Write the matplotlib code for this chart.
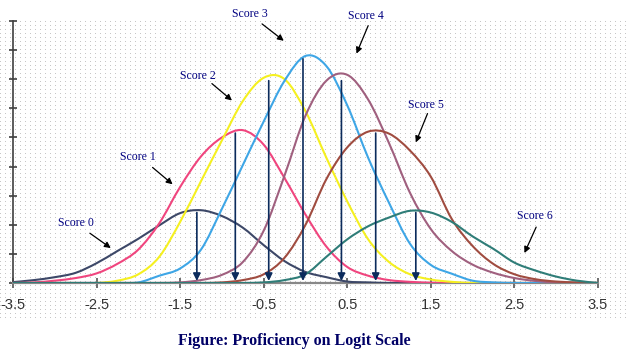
import numpy as np
import matplotlib
matplotlib.use('Agg')
import matplotlib.pyplot as plt
from matplotlib.path import Path
from matplotlib.patches import PathPatch

# logit grid the curves were read at
logit = [-3.5, -3.25, -3.0, -2.75, -2.5, -2.25, -2.0, -1.75, -1.5, -1.25, -1.0, -0.75, -0.5,
         -0.25, 0.0, 0.25, 0.5, 0.75, 1.0, 1.25, 1.5, 1.75, 2.0, 2.25, 2.5, 2.75, 3.0, 3.25, 3.5]

score0 = [0.03, 0.1, 0.2, 0.35, 0.68, 1.1, 1.52, 1.98, 2.4, 2.5, 2.3, 1.9, 1.3,
          0.75, 0.38, 0.2, 0.05, 0.02, 0.0, 0.0, 0.0, 0.0, 0.0, 0.0, 0.0, 0.0, 0.0, 0.0, 0.0]
score1 = [0.0, 0.02, 0.08, 0.17, 0.33, 0.66, 1.15, 2.05, 3.3, 4.35, 5.0, 5.25, 4.75,
          3.6, 2.35, 1.25, 0.55, 0.25, 0.1, 0.04, 0.01, 0.0, 0.0, 0.0, 0.0, 0.0, 0.0, 0.0, 0.0]
score2 = [0.0, 0.0, 0.0, 0.0, 0.0, 0.08, 0.3, 0.9, 2.1, 3.5, 4.9, 6.25, 7.05,
          7.0, 5.9, 4.3, 2.8, 1.5, 0.72, 0.3, 0.12, 0.04, 0.0, 0.0, 0.0, 0.0, 0.0, 0.0, 0.0]
score3 = [0.0, 0.0, 0.0, 0.0, 0.0, 0.0, 0.02, 0.25, 0.5, 1.15, 2.55, 4.05, 5.55,
          6.95, 7.8, 7.45, 6.1, 4.3, 2.75, 1.35, 0.62, 0.32, 0.08, 0.02, 0.0, 0.0, 0.0, 0.0, 0.0]
score4 = [0.0, 0.0, 0.0, 0.0, 0.0, 0.0, 0.0, 0.0, 0.02, 0.1, 0.28, 0.72, 1.8,
          3.7, 5.75, 6.95, 7.15, 6.3, 4.8, 3.1, 1.85, 1.1, 0.63, 0.35, 0.17, 0.07, 0.02, 0.0, 0.0]
score5 = [0.0, 0.0, 0.0, 0.0, 0.0, 0.0, 0.0, 0.0, 0.0, 0.0, 0.02, 0.1, 0.3,
          0.87, 2.0, 3.57, 4.66, 5.2, 5.13, 4.55, 3.65, 2.2, 1.27, 0.65, 0.3, 0.13, 0.05, 0.02, 0.0]
score6 = [0.0, 0.0, 0.0, 0.0, 0.0, 0.0, 0.0, 0.0, 0.0, 0.0, 0.0, 0.0, 0.02,
          0.1, 0.3, 0.9, 1.5, 1.95, 2.25, 2.48, 2.42, 2.1, 1.6, 1.17, 0.7, 0.43, 0.22, 0.08, 0.0]

labels = ['Score 0', 'Score 1', 'Score 2', 'Score 3', 'Score 4', 'Score 5', 'Score 6']
peak_logit = [-1.3, -0.84, -0.44, -0.03, 0.43, 0.84, 1.32]
peak_top = [2.42, 5.15, 6.95, 7.7, 6.95, 5.15, 2.42]
tick_pos = [-3.5, -2.5, -1.5, -0.5, 0.5, 1.5, 2.5, 3.5]
tick_labels = ['-3.5', '-2.5', '-1.5', '-0.5', '0.5', '1.5', '2.5', '3.5']

colors = ['#3d4868', '#f0457e', '#f5f020', '#3ea6e6', '#a0607f', '#a04c40', '#2f7d78']

# label text centre, arrow tail, arrow head (data coords)
label_xy = [(-2.75, 2.05), (-2.0, 4.32), (-1.29, 7.12), (-0.67, 9.25),
            (0.72, 9.18), (1.44, 6.13), (2.74, 2.29)]
arrow_tail = [(-2.58, 1.71), (-1.83, 3.97), (-1.12, 6.85), (-0.52, 8.9),
              (0.75, 8.84), (1.46, 5.82), (2.76, 1.92)]
arrow_head = [(-2.33, 1.2), (-1.59, 3.39), (-0.88, 6.27), (-0.26, 8.32),
              (0.61, 7.88), (1.32, 4.83), (2.62, 1.03)]


def smooth_path(x, y):
    # bezier segments through the read points (like a smoothed line)
    p = np.column_stack([x, y])
    ext = np.vstack([p[0], p, p[-1]])
    verts = [p[0]]
    codes = [Path.MOVETO]
    for i in range(len(p) - 1):
        p0, p1, p2, p3 = ext[i], ext[i + 1], ext[i + 2], ext[i + 3]
        c1 = p1 + (p2 - p0) / 6.0
        c2 = p2 - (p3 - p1) / 6.0
        verts += [c1, c2, p2]
        codes += [Path.CURVE4] * 3
    return Path(verts, codes)


W, H = 629, 360
fig = plt.figure(figsize=(W / 100, H / 100), dpi=100)

# dotted background texture
bg = np.ones((H, W, 3))
bg[21:320:4, 0:W:5] = 0.78
fig.figimage(bg, 0, 0, zorder=-1)

ax = fig.add_axes([13 / W, 77 / H, 585 / W, 262 / H])
ax.set_facecolor('none')

series = [score0, score1, score2, score3, score4, score5, score6]
for ys, c in zip(series, colors):
    ax.add_patch(PathPatch(smooth_path(logit, ys), facecolor='none', edgecolor=c, lw=1.5, zorder=3))

for mx, top in zip(peak_logit, peak_top):
    ax.annotate('', xy=(mx, 0.07), xytext=(mx, top),
                arrowprops=dict(arrowstyle='-|>', color='#0b2b5c', lw=1.2, mutation_scale=11,
                                shrinkA=0, shrinkB=0), zorder=4)

for lab, (tx, ty), tail, head in zip(labels, label_xy, arrow_tail, arrow_head):
    ax.text(tx, ty, lab, ha='center', va='center', fontsize=8.5, color='#000080',
            family='Liberation Serif', clip_on=False)
    ax.annotate('', xy=head, xytext=tail, annotation_clip=False,
                arrowprops=dict(arrowstyle='-|>', color='black', lw=0.9, mutation_scale=9,
                                shrinkA=0, shrinkB=0))

ax.set_xlim(-3.5, 3.5)
ax.set_ylim(0, 9)
ax.set_xticks(tick_pos)
ax.set_xticklabels(tick_labels, family='Liberation Sans', fontsize=10.5, color='#333333')
ax.set_yticks(range(10))
ax.set_yticklabels([])
ax.tick_params(axis='x', direction='inout', length=7, width=1.2, color='#555555', pad=7)
ax.tick_params(axis='y', direction='inout', length=6, width=1.2, color='#404040')
ax.spines['top'].set_visible(False)
ax.spines['right'].set_visible(False)
ax.spines['bottom'].set_color('#888888')
ax.spines['bottom'].set_linewidth(1.6)
ax.spines['left'].set_color('#404040')
ax.spines['left'].set_linewidth(1.2)

fig.text(294.5 / W, 1 - 341 / H, 'Figure: Proficiency on Logit Scale', ha='center', va='center',
         fontsize=11.5, fontweight='bold', family='Liberation Serif', color='#000066')

fig.savefig('out.png', dpi=100)
